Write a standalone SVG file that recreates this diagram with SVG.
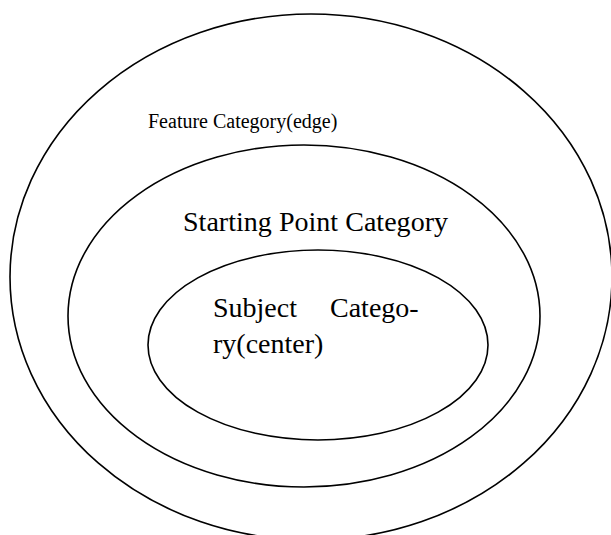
<svg xmlns="http://www.w3.org/2000/svg" width="611" height="535" viewBox="0 0 611 535">
  <style>
    .ring { fill: none; stroke: #000; stroke-width: 1.6; }
    .lbl { font-family: "Liberation Serif", "Times New Roman", serif; fill: #000; }
  </style>
  <rect width="611" height="535" fill="#fff"/>
  <g id="feature-category">
    <ellipse class="ring" cx="311" cy="277" rx="301" ry="263"/>
    <text class="lbl" x="148" y="128" font-size="20">Feature Category(edge)</text>
  </g>
  <g id="starting-point-category">
    <ellipse class="ring" cx="304" cy="316" rx="236" ry="171"/>
    <text class="lbl" x="183" y="231" font-size="28" textLength="265">Starting Point Category</text>
  </g>
  <g id="subject-category">
    <ellipse class="ring" cx="318" cy="345" rx="170" ry="95"/>
    <text class="lbl" font-size="28">
      <tspan x="213" y="317">Subject</tspan>
      <tspan x="330" y="317">Catego-</tspan>
      <tspan x="213" y="353">ry(center)</tspan>
    </text>
  </g>
  <g id="connectors"/>
</svg>
